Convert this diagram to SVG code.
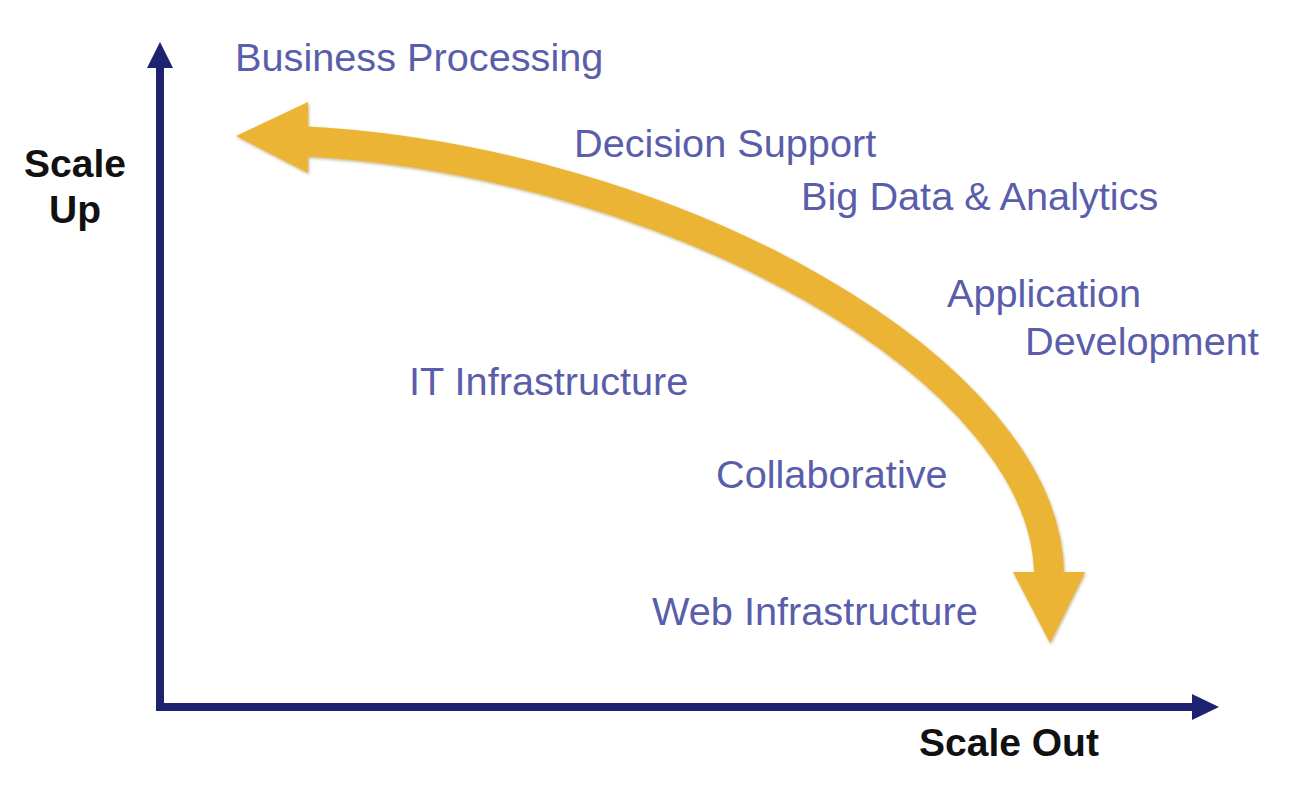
<svg xmlns="http://www.w3.org/2000/svg" width="1292" height="796" viewBox="0 0 1292 796">
<style>
.lbl{font-family:"Liberation Sans",Arial,sans-serif;font-size:39.7px;fill:#5A5EAA}
.ax{font-family:"Liberation Sans",Arial,sans-serif;font-size:39px;font-weight:bold;fill:#111}
.axis{stroke:#1E2370;stroke-width:8;fill:none}
.axhead{fill:#1E2370}
.yel{fill:#ECB435}
.yelline{stroke:#ECB435;stroke-width:30;fill:none}
</style>
<defs>
<filter id="sh" x="-5%" y="-5%" width="110%" height="110%">
<feDropShadow dx="1" dy="1.5" stdDeviation="1.5" flood-color="#7a5d10" flood-opacity="0.45"/>
</filter>
</defs>
<rect width="1292" height="796" fill="#fff"/>
<g id="connectors">
<g id="axes">
<line class="axis" x1="160" y1="64" x2="160" y2="711"/>
<polygon class="axhead" points="160,42 147,68 173,68"/>
<line class="axis" x1="156" y1="707" x2="1196" y2="707"/>
<polygon class="axhead" points="1219,707 1192,694 1192,720"/>
</g>
<g id="curve-arrow" filter="url(#sh)">
<path class="yelline" d="M300,141 C675,160 1049,372 1049,576"/>
<polygon class="yel" points="236,136 308,102 308,173"/>
<polygon class="yel" points="1013,572 1085,572 1050,643"/>
</g>
</g>
<g id="axis-y-label"><text class="ax" x="75" y="177" text-anchor="middle">Scale</text><text class="ax" x="75" y="223" text-anchor="middle">Up</text></g>
<g id="axis-x-label"><text class="ax" x="919" y="756">Scale Out</text></g>
<g id="business-processing"><text class="lbl" x="235" y="71">Business Processing</text></g>
<g id="decision-support"><text class="lbl" x="574" y="157">Decision Support</text></g>
<g id="big-data"><text class="lbl" x="801" y="210">Big Data &amp; Analytics</text></g>
<g id="application-development"><text class="lbl" x="947" y="307">Application</text><text class="lbl" x="1025" y="355">Development</text></g>
<g id="it-infrastructure"><text class="lbl" x="409" y="395">IT Infrastructure</text></g>
<g id="collaborative"><text class="lbl" x="716" y="488">Collaborative</text></g>
<g id="web-infrastructure"><text class="lbl" x="652" y="625">Web Infrastructure</text></g>
</svg>
